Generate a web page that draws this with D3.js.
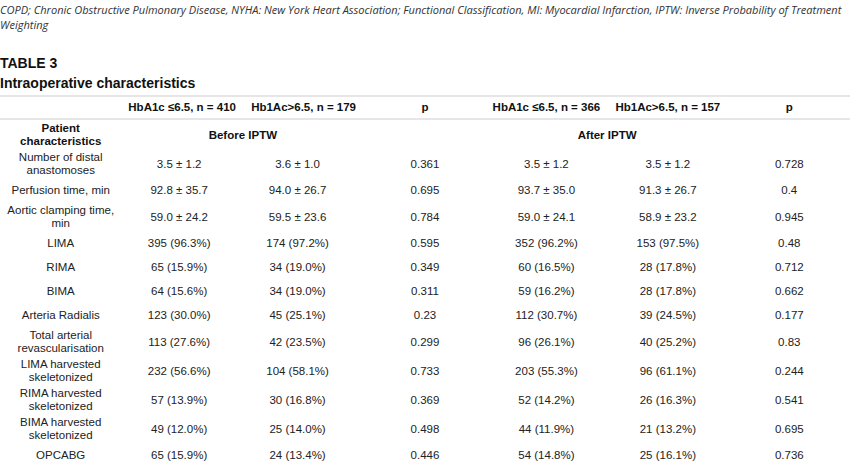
<!DOCTYPE html>
<html>
<head>
<meta charset="utf-8">
<script src="https://cdn.jsdelivr.net/npm/d3@7"></script>
<style>
  body { margin: 0; background: #fff; }
  svg { display: block; }
  .cap { font-family: "Open Sans", "Noto Sans", sans-serif; font-style: italic; fill: #333; }
  .ttl { font-family: "Liberation Sans", Arial, sans-serif; font-weight: bold; font-size: 14px; fill: #111; }
  .cell { font-family: "Liberation Sans", Arial, sans-serif; font-size: 11.5px; fill: #222; }
  .bold { font-weight: bold; fill: #111; }
</style>
</head>
<body>
<script>
var captionLines = [
  "COPD; Chronic Obstructive Pulmonary Disease, NYHA: New York Heart Association; Functional Classification, MI: Myocardial Infarction, IPTW: Inverse Probability of Treatment",
  "Weighting"
];
var tableNo = "TABLE 3";
var tableTitle = "Intraoperative characteristics";

var columnHeaders = ["", "HbA1c \u22646.5, n = 410", "Hb1Ac>6.5, n = 179", "p", "HbA1c \u22646.5, n = 366", "Hb1Ac>6.5, n = 157", "p"];
var groupLabels = ["Before IPTW", "After IPTW"];
var stubHeader = "Patient\ncharacteristics";

var characteristics = [
  "Number of distal\nanastomoses",
  "Perfusion time, min",
  "Aortic clamping time,\nmin",
  "LIMA",
  "RIMA",
  "BIMA",
  "Arteria Radialis",
  "Total arterial\nrevascularisation",
  "LIMA harvested\nskeletonized",
  "RIMA harvested\nskeletonized",
  "BIMA harvested\nskeletonized",
  "OPCABG"
];
var beforeLow = ["3.5 \u00b1 1.2", "92.8 \u00b1 35.7", "59.0 \u00b1 24.2", "395 (96.3%)", "65 (15.9%)", "64 (15.6%)", "123 (30.0%)", "113 (27.6%)", "232 (56.6%)", "57 (13.9%)", "49 (12.0%)", "65 (15.9%)"];
var beforeHigh = ["3.6 \u00b1 1.0", "94.0 \u00b1 26.7", "59.5 \u00b1 23.6", "174 (97.2%)", "34 (19.0%)", "34 (19.0%)", "45 (25.1%)", "42 (23.5%)", "104 (58.1%)", "30 (16.8%)", "25 (14.0%)", "24 (13.4%)"];
var beforeP = ["0.361", "0.695", "0.784", "0.595", "0.349", "0.311", "0.23", "0.299", "0.733", "0.369", "0.498", "0.446"];
var afterLow = ["3.5 \u00b1 1.2", "93.7 \u00b1 35.0", "59.0 \u00b1 24.1", "352 (96.2%)", "60 (16.5%)", "59 (16.2%)", "112 (30.7%)", "96 (26.1%)", "203 (55.3%)", "52 (14.2%)", "44 (11.9%)", "54 (14.8%)"];
var afterHigh = ["3.5 \u00b1 1.2", "91.3 \u00b1 26.7", "58.9 \u00b1 23.2", "153 (97.5%)", "28 (17.8%)", "28 (17.8%)", "39 (24.5%)", "40 (25.2%)", "96 (61.1%)", "26 (16.3%)", "21 (13.2%)", "25 (16.1%)"];
var afterP = ["0.728", "0.4", "0.945", "0.48", "0.712", "0.662", "0.177", "0.83", "0.244", "0.541", "0.695", "0.736"];

var W = 850, H = 466;
var svg = d3.select("body").append("svg").attr("width", W).attr("height", H);

// caption, fitted to the page width
var cap = svg.selectAll("text.cap").data(captionLines).enter().append("text")
  .attr("class", "cap")
  .attr("x", 0)
  .attr("y", function(d, i){ return 13.5 + i * 15.5; })
  .style("font-size", "11px")
  .text(function(d){ return d; });
var capLen = cap.node().getComputedTextLength();
cap.style("font-size", (11 * 843 / capLen) + "px");

svg.append("text").attr("class", "ttl").attr("x", 0).attr("y", 68).text(tableNo);
svg.append("text").attr("class", "ttl").attr("x", 0).attr("y", 88).text(tableTitle);

var x = d3.scaleBand().domain(d3.range(columnHeaders.length)).range([0, W]);
var cx = function(i){ return x(i) + x.bandwidth() / 2; };
var bodyShift = [0, -3, -6, 0, 0, 0, 0];

// rules
svg.selectAll("line.rule").data([96, 119]).enter().append("line")
  .attr("x1", 0).attr("x2", W)
  .attr("y1", function(d){ return d; }).attr("y2", function(d){ return d; })
  .attr("stroke", "#dedede").attr("stroke-width", 1.5);

// header row
svg.selectAll("text.hdr").data(columnHeaders).enter().append("text")
  .attr("class", "cell bold")
  .attr("text-anchor", "middle")
  .attr("x", function(d, i){ return cx(i); })
  .attr("y", 107).attr("dy", "0.35em")
  .text(function(d){ return d; });

// body rows
var rows = [{ label: stubHeader, cells: ["", groupLabels[0], "", "", groupLabels[1], ""], head: true }];
characteristics.forEach(function(c, i){
  rows.push({ label: c, cells: [beforeLow[i], beforeHigh[i], beforeP[i], afterLow[i], afterHigh[i], afterP[i]] });
});

var lineH = 13;
var y0 = 120;
rows.forEach(function(r){
  r.lines = r.label.split("\n");
  r.h = r.lines.length > 1 ? 29 : 24;
  r.y = y0 + r.h / 2;
  y0 += r.h;
});

var g = svg.selectAll("g.row").data(rows).enter().append("g").attr("class", "row")
  .attr("transform", function(d){ return "translate(0," + d.y + ")"; });

g.append("text")
  .attr("class", function(d){ return d.head ? "cell bold" : "cell"; })
  .attr("text-anchor", "middle")
  .selectAll("tspan").data(function(d){ return d.lines; }).enter().append("tspan")
  .attr("x", cx(0))
  .attr("y", function(d, i, n){ return (i - (n.length - 1) / 2) * lineH; })
  .attr("dy", "0.35em")
  .text(function(d){ return d; });

g.each(function(r){
  var sel = d3.select(this);
  if (r.head) {
    sel.selectAll("text.grp").data(groupLabels).enter().append("text")
      .attr("class", "cell bold")
      .attr("text-anchor", "middle")
      .attr("x", function(d, i){ return (cx(1 + i * 3) + cx(2 + i * 3)) / 2; })
      .attr("y", 0).attr("dy", "0.35em")
      .text(function(d){ return d; });
  } else {
    sel.selectAll("text.val").data(r.cells).enter().append("text")
      .attr("class", "cell")
      .attr("text-anchor", "middle")
      .attr("x", function(d, i){ return cx(i + 1) + bodyShift[i + 1]; })
      .attr("y", 0).attr("dy", "0.35em")
      .text(function(d){ return d; });
  }
});
</script>
</body>
</html>
